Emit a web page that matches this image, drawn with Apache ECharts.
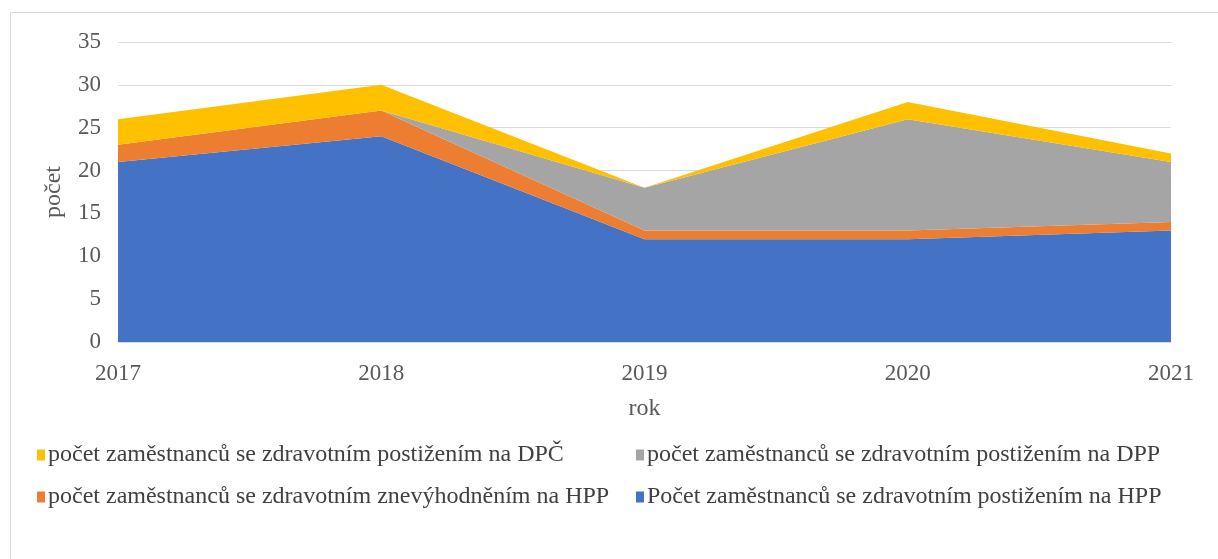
<!DOCTYPE html>
<html>
<head>
<meta charset="utf-8">
<script src="https://cdn.jsdelivr.net/npm/echarts@6/dist/echarts.min.js"></script>
<style>
  html, body { margin: 0; padding: 0; background: #fff; }
  #chart { width: 1218px; height: 559px; }
</style>
</head>
<body>
<div id="chart"></div>
<script>
// roky
const years = ["2017", "2018", "2019", "2020", "2021"];

// hodnoty po vrstvach (odspodu nahoru)
const hppPostizeni = [21, 24, 12, 12, 13];
const hppZnevyhodneni = [2, 3, 1, 1, 1];
const dppPostizeni = [0, 0, 5, 13, 7];
const dpcPostizeni = [3, 3, 0, 2, 1];

const names = [
  "Počet zaměstnanců se zdravotním postižením na HPP",
  "počet zaměstnanců se zdravotním znevýhodněním na HPP",
  "počet zaměstnanců se zdravotním postižením na DPP",
  "počet zaměstnanců se zdravotním postižením na DPČ"
];
const colors = ["#4472c4", "#ed7d31", "#a5a5a5", "#ffc000"];
const values = [hppPostizeni, hppZnevyhodneni, dppPostizeni, dpcPostizeni];

const font = "Liberation Serif";

function legendAt(name, left, top) {
  return {
    data: [name],
    left: left,
    top: top,
    icon: "rect",
    itemWidth: 8,
    itemHeight: 11,
    itemGap: 0,
    padding: 0,
    textStyle: { fontFamily: font, fontSize: 24, color: "#404040", padding: [0, 0, 0, -2] }
  };
}

var myChart = echarts.init(document.getElementById("chart"));

myChart.setOption({
  animation: false,
  textStyle: { fontFamily: font },
  graphic: [
    {
      type: "rect",
      shape: { x: 10.5, y: 12.5, width: 1220, height: 560 },
      style: { fill: "none", stroke: "#d9d9d9", lineWidth: 1 },
      silent: true
    }
  ],
  legend: [
    legendAt(names[3], 37, 443),
    legendAt(names[2], 636, 443),
    legendAt(names[1], 37, 485),
    legendAt(names[0], 636, 485)
  ],
  grid: { left: 118, right: 47, top: 42, bottom: 217 },
  xAxis: {
    type: "category",
    boundaryGap: false,
    data: years,
    name: "rok",
    nameLocation: "middle",
    nameGap: 55,
    nameTextStyle: { fontFamily: font, fontSize: 24, color: "#595959" },
    axisLine: { show: true, lineStyle: { color: "#d9d9d9" } },
    axisTick: { show: false },
    axisLabel: { fontFamily: font, fontSize: 23, color: "#595959", margin: 20 }
  },
  yAxis: {
    type: "value",
    min: 0,
    max: 35,
    interval: 5,
    name: "počet",
    nameLocation: "middle",
    nameGap: 52,
    nameTextStyle: { fontFamily: font, fontSize: 24, color: "#595959" },
    axisLine: { show: false },
    axisTick: { show: false },
    axisLabel: { fontFamily: font, fontSize: 23, color: "#595959", margin: 17 },
    splitLine: { lineStyle: { color: "#d9d9d9", width: 1 } }
  },
  series: values.map(function (v, i) {
    return {
      name: names[i],
      type: "line",
      stack: "total",
      data: v,
      symbol: "none",
      lineStyle: { width: 0 },
      itemStyle: { color: colors[i] },
      areaStyle: { color: colors[i], opacity: 1 }
    };
  })
});
</script>
</body>
</html>
